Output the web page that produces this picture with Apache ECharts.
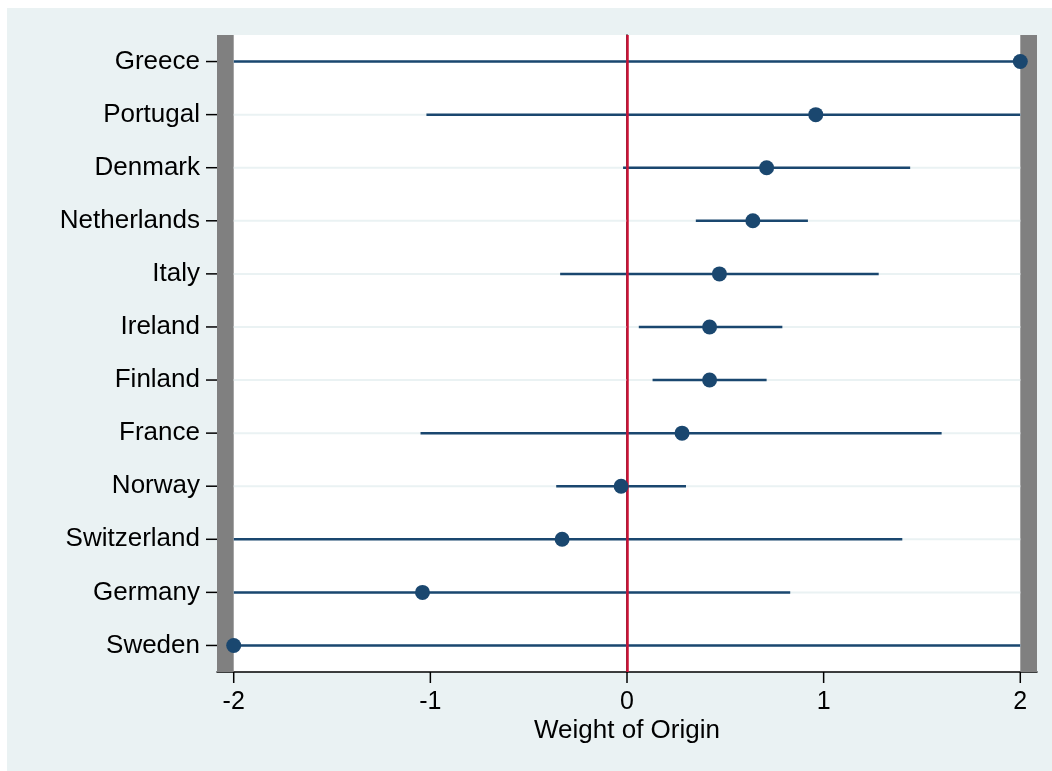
<!DOCTYPE html>
<html>
<head>
<meta charset="utf-8">
<script src="https://cdn.jsdelivr.net/npm/echarts@6/dist/echarts.min.js"></script>
<style>
  html, body { margin: 0; padding: 0; background: #ffffff; }
  #bg { position: absolute; left: 7px; top: 8px; width: 1045px; height: 763px; background: #EAF2F3; }
  #chart { position: absolute; left: 0; top: 0; width: 1052px; height: 771px; }
</style>
</head>
<body>
<div id="bg"></div>
<div id="chart"></div>
<script>
// Data
const countries = ['Greece', 'Portugal', 'Denmark', 'Netherlands', 'Italy', 'Ireland', 'Finland', 'France', 'Norway', 'Switzerland', 'Germany', 'Sweden'];
const estimates = [2.0, 0.96, 0.71, 0.64, 0.47, 0.42, 0.42, 0.28, -0.03, -0.33, -1.04, -2.0];
const lower     = [-2.0, -1.02, -0.02, 0.35, -0.34, 0.06, 0.13, -1.05, -0.36, -2.0, -2.0, -2.0];
const upper     = [2.0, 2.0, 1.44, 0.92, 1.28, 0.79, 0.71, 1.60, 0.30, 1.40, 0.83, 2.0];
const xTicks    = [-2, -1, 0, 1, 2];
const xTitle    = 'Weight of Origin';

const X_MIN = -2.085, X_MAX = 2.085;
const NAVY = '#1A476F';
const FONT = 'Liberation Sans, Arial, Helvetica, sans-serif';
const TICK_LEN = 11;

const chart = echarts.init(document.getElementById('chart'), null, { renderer: 'canvas' });

const ciData = countries.map((c, i) => [lower[i], upper[i], i]);
const dotData = countries.map((c, i) => [estimates[i], c]);
const gridData = countries.map((c, i) => [xTicks[0], xTicks[xTicks.length - 1], i]);

function hLine(color, width) {
  return function (params, api) {
    const p1 = api.coord([api.value(0), api.value(2)]);
    const p2 = api.coord([api.value(1), api.value(2)]);
    return {
      type: 'line',
      shape: { x1: p1[0], y1: p1[1], x2: p2[0], y2: p2[1] },
      style: { stroke: color, lineWidth: width }
    };
  };
}

const option = {
  animation: false,
  backgroundColor: 'transparent',
  grid: {
    left: 217, right: 15, top: 35, bottom: 99,
    show: true, backgroundColor: '#ffffff', borderWidth: 0
  },
  xAxis: {
    type: 'value',
    min: X_MIN, max: X_MAX,
    name: xTitle,
    nameLocation: 'middle',
    nameGap: 46,
    nameMoveOverlap: false,
    nameTextStyle: { fontSize: 26, color: '#000', fontFamily: FONT },
    axisLine: { show: true, onZero: false, lineStyle: { color: '#000', width: 1.5 } },
    axisTick: { show: false },
    axisLabel: { customValues: xTicks, fontSize: 25, color: '#000', fontFamily: FONT, margin: 18,
                 formatter: v => String(v) },
    splitLine: { show: false }
  },
  yAxis: {
    type: 'category',
    data: countries,
    inverse: true,
    boundaryGap: true,
    axisLine: { show: true, lineStyle: { color: '#000', width: 1.5 } },
    axisTick: { show: false },
    axisLabel: { fontSize: 26, color: '#000', fontFamily: FONT, margin: 17, padding: [3, 0, 0, 0] },
    splitLine: { show: false }
  },
  series: [
    {
      // horizontal grid lines at each category
      type: 'custom',
      z: 1,
      silent: true,
      data: gridData,
      encode: { x: [0, 1], y: 2 },
      renderItem: hLine('#EAF2F3', 2)
    },
    {
      // gray out-of-range bands
      type: 'line',
      data: [],
      z: 2,
      markArea: {
        silent: true,
        itemStyle: { color: '#808080' },
        data: [
          [{ xAxis: X_MIN }, { xAxis: xTicks[0] }],
          [{ xAxis: xTicks[xTicks.length - 1] }, { xAxis: X_MAX }]
        ]
      }
    },
    {
      // confidence interval lines
      type: 'custom',
      z: 3,
      silent: true,
      data: ciData,
      encode: { x: [0, 1], y: 2 },
      renderItem: hLine(NAVY, 2.5)
    },
    {
      // zero reference line
      type: 'line',
      data: [],
      z: 4,
      markLine: {
        silent: true,
        symbol: ['none', 'none'],
        label: { show: false },
        lineStyle: { color: '#CC1236', width: 2.5, type: 'solid' },
        data: [{ xAxis: 0 }]
      }
    },
    {
      type: 'scatter',
      z: 5,
      data: dotData,
      symbol: 'circle',
      symbolSize: 15,
      itemStyle: { color: NAVY, opacity: 1 }
    },
    {
      // y-axis ticks (outside, to the left of the axis line)
      type: 'custom',
      z: 6,
      silent: true,
      clip: false,
      data: countries.map((c, i) => [i]),
      encode: { y: 0 },
      renderItem: function (params, api) {
        const cs = params.coordSys;
        const y = api.coord([0, api.value(0)])[1];
        return {
          type: 'line',
          shape: { x1: cs.x - TICK_LEN, y1: y, x2: cs.x, y2: y },
          style: { stroke: '#000', lineWidth: 1.5 }
        };
      }
    },
    {
      // x-axis ticks (outside, below the axis line)
      type: 'custom',
      z: 6,
      silent: true,
      clip: false,
      data: xTicks.map(v => [v]),
      encode: { x: 0 },
      renderItem: function (params, api) {
        const cs = params.coordSys;
        const x = api.coord([api.value(0), 0])[0];
        const yb = cs.y + cs.height;
        return {
          type: 'line',
          shape: { x1: x, y1: yb, x2: x, y2: yb + TICK_LEN },
          style: { stroke: '#000', lineWidth: 1.5 }
        };
      }
    }
  ]
};

chart.setOption(option);
</script>
</body>
</html>
